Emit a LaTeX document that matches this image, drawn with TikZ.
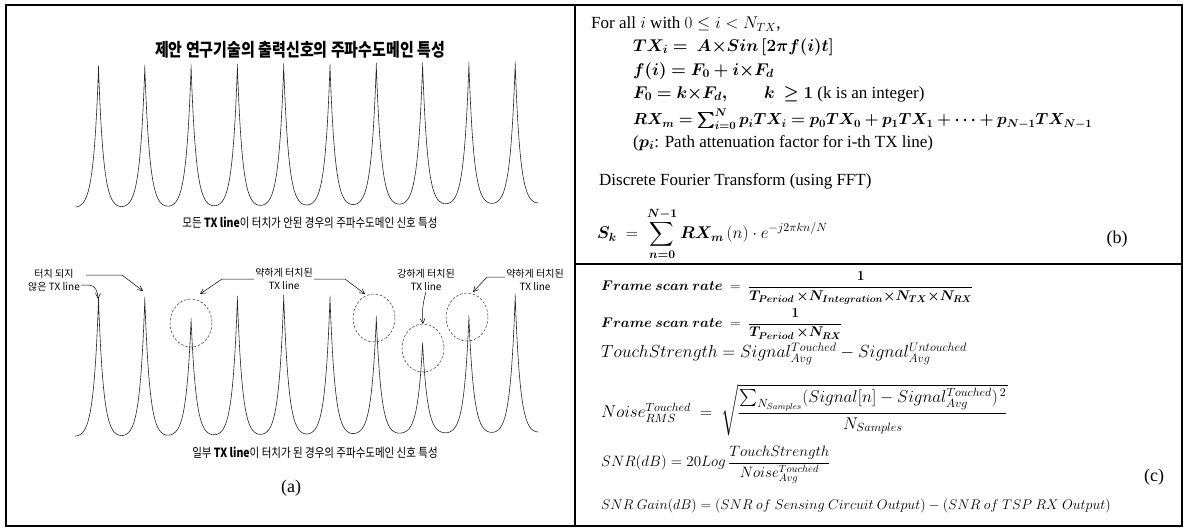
\RequirePackage{fix-cm}
\documentclass[tikz,border=0pt]{standalone}
\usepackage{amsmath,amssymb}
\usepackage{bm}
\usepackage{graphicx}
\usepackage{fontspec}
\setmainfont{Liberation Serif}
\newfontfamily\kr{Noto Sans CJK KR}
\usetikzlibrary{arrows.meta,positioning,calc}

\tikzset{
  panel/.style={line width=1.4pt},
  spectrum/.style={line width=0.6pt, black!85},
  ring/.style={line width=0.5pt, dash pattern=on 2.5pt off 1.8pt, black!80},
  callout/.style={line width=0.5pt, -{Straight Barb[length=5pt,width=5pt]}},
  klabel/.style={font=\kr\fontsize{10}{12.5}\selectfont, align=center, inner sep=1pt},
  kcap/.style={font=\kr\fontsize{10.5}{12}\selectfont, inner sep=0pt},
  tag/.style={font=\fontsize{18}{20}\selectfont, inner sep=0pt},
  btext/.style={anchor=west, inner sep=0pt, font=\fontsize{17}{20}\selectfont},
  ctext/.style={anchor=west, inner sep=0pt}
}
\newcommand{\tallkr}[1]{\scalebox{1}[1.2]{#1}}

\begin{document}
\begin{tikzpicture}[x=1pt, y=-1pt,
    declare function={off(\q)=23.15*\q*\q*\q;
      cusp(\d)=(exp(-abs(\d)/5)+exp(-(46.3-abs(\d))/5)-0.0195)/0.9806;}]
    \useasboundingbox (0,0) rectangle (1189,532);

    % table frame
    \draw[panel] (6,5) rectangle (1182,526);
    \draw[panel] (575,5) -- (575,526);
    \draw[panel] (575,264) -- (1182,264);

    % (a) upper spectrum: no TX line touched
    \node[font=\kr\fontsize{15}{18}\selectfont] (title) at (300,50) {\tallkr{\bfseries 제안 연구기술의 출력신호의 주파수도메인 특성}};
    \foreach \k in {0,...,9}{
        \draw[spectrum] plot[variable=\q, domain=-1:1, samples=61]
            ({98.5+46.3*\k+off(\q)}, {207-0.0087*(off(\q)+46.3*\k+23.5)-139*cusp(off(\q))});
    }
    \node[kcap] (capTop) at (310,223) {\tallkr{모든 \textbf{TX line}이 터치가 안된 경우의 주파수도메인 신호 특성}};

    % (a) lower spectrum: some TX lines touched
    \foreach \k/\h in {0/136,1/136,2/115,3/136,4/137,5/136,6/115,7/89,8/115,9/136}{
        \draw[spectrum] plot[variable=\q, domain=-1:1, samples=61]
            ({98.5+46.3*\k+off(\q)}, {436-0.0087*(off(\q)+46.3*\k+23.5)-\h*cusp(off(\q))});
    }
    \draw[ring] (191,323) ellipse [x radius=21, y radius=24];
    \draw[ring] (374,318) ellipse [x radius=21, y radius=24];
    \draw[ring] (423,348) ellipse [x radius=21, y radius=24];
    \draw[ring] (467,317) ellipse [x radius=21, y radius=24];

    \coordinate (tipA1) at (98,299);
    \coordinate (tipA2) at (143,291);
    \coordinate (tipB1) at (200,294);
    \coordinate (tipB2) at (365,294);
    \coordinate (tipC) at (423,324);
    \coordinate (tipD) at (473,292);

    \node[klabel] (untouched) at (54,280) {터치 되지\\않은 TX line};
    \node[klabel] (weakL) at (284,279) {약하게 터치된\\TX line};
    \node[klabel] (strong) at (426,280) {강하게 터치된\\TX line};
    \node[klabel] (weakR) at (535,280) {약하게 터치된\\TX line};

    \draw[callout] ([xshift=5pt,yshift=5pt]untouched.east) -- ++(36,0) -- (tipA2);
    \draw[callout] ([yshift=-5pt]untouched.east) -- ++(8,0) to[out=0,in=90] (tipA1);
    \draw[callout] (weakL.west) -- ++(-32,0) -- (tipB1);
    \draw[callout] (weakL.east) -- ++(31,0) -- (tipB2);
    \draw[callout] (strong.south) to[bend right=10] (tipC);
    \draw[callout] ([yshift=3pt]weakR.west) -- ++(-18,0) -- (tipD);

    \node[kcap] (capBot) at (315,453) {\tallkr{일부 \textbf{TX line}이 터치가 된 경우의 주파수도메인 신호 특성}};
    \node[tag] (tagA) at (291,488) {(a)};

    % (b) signal model
    \node[btext] (forall) at (591,24) {For all $i$ with $0\le i<N_{TX}$,};
    \node[btext] (txi) at (633,47) {$\bm{TX_i=\ A{\times}Sin\,[2\pi f(i)t]}$};
    \node[btext] (fi) at (633,71) {$\bm{f(i)=F_0+i{\times}F_d}$};
    \node[btext] (fzero) at (633,94) {$\bm{F_0=k{\times}F_d,}\qquad\bm{k\ \ge 1}$ (k is an integer)};
    \node[btext, font=\fontsize{16}{19}\selectfont] (rxm) at (633,119) {$\bm{RX_m=\textstyle\sum_{i=0}^{N}p_iTX_i=p_0TX_0+p_1TX_1+\cdots+p_{N-1}TX_{N-1}}$};
    \node[btext] (pnote) at (633,143) {($\bm{p_i}$: Path attenuation factor for i-th TX line)};
    \node[btext] (dft) at (599,181) {Discrete Fourier Transform (using FFT)};
    \node[btext] (sk) at (597,234) {$\bm{S_k}\ =\ \displaystyle\sum_{\bm{n=0}}^{\bm{N-1}}\bm{RX_m}\,(n)\cdot e^{-j2\pi kn/N}$};
    \node[tag] (tagB) at (1117,239) {(b)};

    % (c) touch metrics
    \node[ctext, font=\fontsize{14}{16}\selectfont] (fsrA) at (601,288)
        {$\bm{Frame\ scan\ rate}\ =\ \dfrac{\bm{1}}{\bm{T_{Period}\,{\times}N_{Integration}{\times}N_{TX}{\times}N_{RX}}}$};
    \node[ctext, font=\fontsize{14}{16}\selectfont] (fsrB) at (601,324)
        {$\bm{Frame\ scan\ rate}\ =\ \dfrac{\bm{1}}{\bm{T_{Period}\,{\times}N_{RX}}}$};
    \node[ctext, font=\fontsize{17.5}{20}\selectfont] (tstr) at (601,354)
        {$TouchStrength=Signal^{Touched}_{Avg}-Signal^{Untouched}_{Avg}$};
    \node[ctext, font=\fontsize{17}{20}\selectfont] (noise) at (601,410)
        {$Noise^{Touched}_{RMS}\ =\ \sqrt{\dfrac{\sum_{N_{Samples}}(Signal[n]-Signal^{Touched}_{Avg})^{\,2}}{N_{Samples}}}$};
    \node[ctext, font=\fontsize{15}{18}\selectfont] (snr) at (601,465)
        {$SNR(dB)=20Log\,\dfrac{TouchStrength}{Noise^{Touched}_{Avg}}$};
    \node[ctext, font=\fontsize{14}{16}\selectfont] (gain) at (601,506)
        {$SNR\ Gain(dB)=(SNR\ of\ Sensing\ Circuit\ Output)-(SNR\ of\ TSP\ RX\ Output)$};
    \node[tag] (tagC) at (1154,477) {(c)};
\end{tikzpicture}
\end{document}
